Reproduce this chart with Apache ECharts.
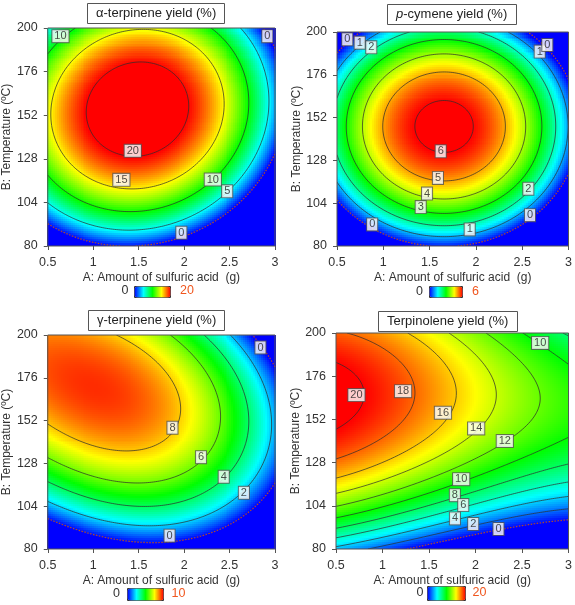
<!DOCTYPE html>
<html><head><meta charset="utf-8">
<script src="https://cdn.jsdelivr.net/npm/echarts@6/dist/echarts.min.js"></script>
<style>html,body{margin:0;padding:0;background:#fff}#c{width:575px;height:605px}</style>
</head><body><div id="c"></div>
<script>
// ---------- data ----------
const xTicks = [0.5, 1, 1.5, 2, 2.5, 3];
const yTicks = [80, 104, 128, 152, 176, 200];
const titles = ['α-terpinene yield (%)', '{i|p}-cymene yield (%)', 'γ-terpinene yield (%)', 'Terpinolene yield (%)'];
const xName = 'A: Amount of sulfuric acid  (g)';
const yName = 'B: Temperature (ºC)';
const colorMax = [20, 6, 10, 20];
const fitDegree = [2, 2, 3, 3];

const alphaLevels = [0, 5, 10, 15, 20];
const cymeneLevels = [0, 1, 2, 3, 4, 5, 6];
const gammaLevels = [0, 2, 4, 6, 8];
const terpLevels = [0, 2, 4, 6, 8, 10, 12, 14, 16, 18, 20];

// [A (g), B (°C), yield] points
const alphaPts = [
  [1.54,155.5,23],
  [0.969,155.5,20],[2.114,155.5,20],[1.54,182.1,20],[1.54,128.8,20],
  [0.61,155.5,15],[2.405,155.5,15],[1.52,199.5,15],[1.52,111.5,15],[1.31,113.5,15],
  [2.73,155.5,10],[1.54,99.6,10],[0.5,183.6,10],[0.5,111.5,10],[0.64,195.5,10],[2.316,116.6,10],
  [2.93,155.5,5],[1.54,89.9,5],[2.474,110.1,5],[0.5,102,5],
  [1.54,81.3,0],[1.97,83,0],[3.0,131.5,0],[2.916,195.5,0],[0.5,95.5,0]
];
const cymenePts = [
  [1.66,145.5,6.35],
  [1.313,145.5,6],[2.009,145.5,6],[1.66,161,6],[1.66,130,6],
  [0.983,145.6,5],[2.333,145.6,5],[1.66,176.4,5],[1.66,114.9,5],
  [0.763,145,4],[2.555,145,4],[1.66,184.7,4],[1.66,104.8,4],
  [0.594,145.3,3],[2.728,145.3,3],[1.66,193.3,3],[1.66,97.2,3],
  [0.51,145.4,2],[2.873,145.4,2],[1.66,199.3,2],[1.66,90.3,2],[2.566,112.1,2],[0.87,191.4,2],
  [2.95,145.4,1],[1.66,84.6,1],[2.689,189,1],[0.745,194,1],[1.933,86.5,1],
  [1.66,79.5,0],[0.88,92.1,0],[2.584,97.3,0],[2.771,192.7,0],[0.611,195.9,0]
];
const gammaPts = [
  [0.935,168.6,9.4],[0.5,175,9.1],[0.5,200,8.7],
  [0.5,147.6,8],[1.293,134.9,8],[1.872,148,8],[1.943,161.1,8],[1.65,188.3,8],[1.3,200,8],
  [0.5,130.2,6],[1.65,116.7,6],[2.186,131.5,6],[2.329,154.6,6],[2.15,186.4,6],[1.83,200,6],
  [0.5,117.5,4],[1.83,104,4],[2.436,120.5,4],[2.704,154.6,4],[2.561,182.7,4],[2.2,200,4],
  [0.5,106.8,2],[1.972,93.1,2],[2.658,111.5,2],[2.955,150.8,2],[2.83,180.8,2],[2.55,200,2],
  [0.5,98.7,0],[1.9,85.5,0],[3.0,117,0],[2.73,200,0],[2.84,193,0],
  [3,150,1.8],[3,200,-2.5],[3,80,-6],[0.5,80,-4]
];
const terpPts = [
  [0.5,162,20.9],[0.5,200,18.3],
  [0.5,177.9,20],[0.72,162.1,20],[0.5,143.1,20],
  [0.56,199,18],[1.221,162.1,18],[1.046,146.5,18],[0.5,128.9,18],
  [1.31,200,16],[1.722,162,16],[0.5,118.8,16],
  [1.85,200,14],[1.94,194.5,14],[2.221,162,14],[2.007,147,14],[0.5,109.5,14],
  [2.15,200,12],[2.708,162.1,12],[2.315,140,12],[0.5,101.6,12],
  [2.44,200,10],[2.695,194.5,10],[3.0,184.3,10],[3.0,128.9,10],[1.846,118.8,10],[0.5,95.7,10],
  [2.9,200,8],[3.0,195,8],[3.0,122.5,8],[1.778,109.9,8],[0.5,91.1,8],
  [3.0,116.6,6],[1.868,104.4,6],[0.5,86.5,6],
  [3.0,111.4,4],[1.779,97,4],[0.5,82.2,4],
  [3.0,105.9,2],[1.975,93.9,2],[0.5,79.5,2],
  [3.0,98.5,0],[2.247,91.1,0],[1.67,80,0],
  [3,162,11],[3,200,7.6],[3,80,-6]
];

// contour label boxes [A, B, text]
const alphaLabels = [[0.64,195.5,'10'],[2.916,195.5,'0'],[1.435,132.4,'20'],[1.31,116.4,'15'],[2.316,116.6,'10'],[2.474,110.1,'5'],[1.97,87.3,'0']];
const cymeneLabels = [[0.611,195.9,'0'],[0.745,194,'1'],[0.87,191.4,'2'],[2.689,189,'1'],[2.771,192.7,'0'],[1.62,133.1,'6'],[1.59,118.2,'5'],[1.472,109.4,'4'],[1.404,101.8,'3'],[2.566,112.1,'2'],[2.584,97.3,'0'],[0.88,92.1,'0'],[1.933,89.3,'1']];
const gammaLabels = [[1.872,148,'8'],[2.186,131.5,'6'],[2.436,120.5,'4'],[2.658,111.5,'2'],[1.84,87.5,'0'],[2.84,193,'0']];
const terpLabels = [[0.72,165.5,'20'],[1.221,167.7,'18'],[1.65,155.7,'16'],[2.007,147,'14'],[2.315,140,'12'],[2.695,194.5,'10'],[1.846,118.8,'10'],[1.778,109.9,'8'],[1.868,104.4,'6'],[1.779,97,'4'],[1.975,93.9,'2'],[2.247,91.1,'0']];

const panelPts = [alphaPts, cymenePts, gammaPts, terpPts];
const panelLevels = [alphaLevels, cymeneLevels, gammaLevels, terpLevels];
const panelLabels = [alphaLabels, cymeneLabels, gammaLabels, terpLabels];

// ---------- layout / style ----------
const palette = ['#0000ff', '#00ffff', '#00ff00', '#ffff00', '#ff0000'];
const FONT = '"Liberation Sans", Arial, sans-serif';
const layout = [
  {left:43, top:28, w:232, h:218, nx:116, ny:109, title:[87,3], yGap:31, bar:[134,286,36,11], lab0:[125,291], labMax:[187,291]},
  {left:337, top:32, w:232, h:214, nx:116, ny:107, title:[387,4], yGap:28, bar:[429,286,33,11], lab0:[419.5,292], labMax:[475.5,292]},
  {left:42, top:335, w:233, h:214, nx:116, ny:107, title:[88,310], yGap:30, bar:[127,588,36,12], lab0:[116.5,594], labMax:[178.5,594]},
  {left:336, top:333, w:233, h:216, nx:116, ny:108, title:[378,311], yGap:32, bar:[427,586,38,14], lab0:[420,593], labMax:[479.5,593]}
];

// ---------- response-surface fit of the read points ----------
const X0 = xTicks[0], X1 = xTicks[xTicks.length-1];
const Y0 = yTicks[0], Y1 = yTicks[yTicks.length-1];
function nu(a){ return (a - (X0+X1)/2) / ((X1-X0)/2); }
function nv(b){ return (b - (Y0+Y1)/2) / ((Y1-Y0)/2); }
function basis(u, v, deg){
  const b = [1, u, v, u*v, u*u, v*v];
  if (deg >= 3) b.push(u*u*u, u*u*v, u*v*v, v*v*v);
  return b;
}
function fit(pts, deg){
  const rows = pts.map(p => basis(nu(p[0]), nv(p[1]), deg));
  const n = rows[0].length;
  const M = Array.from({length:n}, () => new Array(n).fill(0));
  const r = new Array(n).fill(0);
  rows.forEach((b, k) => {
    for (let i = 0; i < n; i++) {
      r[i] += b[i] * pts[k][2];
      for (let j = 0; j < n; j++) M[i][j] += b[i] * b[j];
    }
  });
  for (let i = 0; i < n; i++) M[i][i] += 1e-4;
  for (let c = 0; c < n; c++) {
    let piv = c;
    for (let i = c+1; i < n; i++) if (Math.abs(M[i][c]) > Math.abs(M[piv][c])) piv = i;
    [M[c], M[piv]] = [M[piv], M[c]]; [r[c], r[piv]] = [r[piv], r[c]];
    for (let i = c+1; i < n; i++) {
      const f = M[i][c] / M[c][c];
      for (let j = c; j < n; j++) M[i][j] -= f * M[c][j];
      r[i] -= f * r[c];
    }
  }
  const x = new Array(n).fill(0);
  for (let i = n-1; i >= 0; i--) {
    let s = r[i];
    for (let j = i+1; j < n; j++) s -= M[i][j] * x[j];
    x[i] = s / M[i][i];
  }
  return (a, b) => { const bb = basis(nu(a), nv(b), deg); let s = 0; for (let i = 0; i < n; i++) s += bb[i]*x[i]; return s; };
}

// ---------- marching squares ----------
function contourChains(F, nx, ny, level){
  const P = {}, adj = {};
  const link = (a, b) => { (adj[a] = adj[a] || []).push(b); (adj[b] = adj[b] || []).push(a); };
  const nodeA = i => X0 + i*(X1-X0)/nx, nodeB = j => Y0 + j*(Y1-Y0)/ny;
  function edge(key, i1, j1, i2, j2){
    const va = F[j1][i1], vb = F[j2][i2];
    if ((va >= level) === (vb >= level)) return null;
    if (!P[key]) {
      const t = (level - va) / (vb - va);
      P[key] = [nodeA(i1) + t*(nodeA(i2)-nodeA(i1)), nodeB(j1) + t*(nodeB(j2)-nodeB(j1))];
    }
    return key;
  }
  for (let j = 0; j < ny; j++) for (let i = 0; i < nx; i++) {
    const eb = edge('h'+i+'_'+j, i, j, i+1, j);
    const er = edge('v'+(i+1)+'_'+j, i+1, j, i+1, j+1);
    const et = edge('h'+i+'_'+(j+1), i, j+1, i+1, j+1);
    const el = edge('v'+i+'_'+j, i, j, i, j+1);
    const list = [eb, er, et, el].filter(e => e);
    if (list.length === 2) link(list[0], list[1]);
    else if (list.length === 4) {
      const c = (F[j][i]+F[j][i+1]+F[j+1][i]+F[j+1][i+1])/4;
      if ((c >= level) === (F[j][i] >= level)) { link(eb, er); link(et, el); }
      else { link(eb, el); link(er, et); }
    }
  }
  const used = {}, chains = [];
  const walk = start => {
    const chain = [P[start]]; used[start] = true;
    let cur = start;
    while (true) {
      const nxt = (adj[cur] || []).find(k => !used[k]);
      if (!nxt) break;
      used[nxt] = true; chain.push(P[nxt]); cur = nxt;
    }
    if ((adj[cur] || []).includes(start) && chain.length > 2) chain.push(P[start]);
    return chain;
  };
  Object.keys(adj).forEach(k => { if (!used[k] && adj[k].length === 1) chains.push(walk(k)); });
  Object.keys(adj).forEach(k => { if (!used[k]) chains.push(walk(k)); });
  return chains;
}

// ---------- build option ----------
const grids = [], xAxes = [], yAxes = [], series = [], visualMaps = [], titleOpts = [], graphics = [];
layout.forEach((L, p) => {
  const f = fit(panelPts[p], fitDegree[p]);
  grids.push({left:L.left, top:L.top, width:L.w, height:L.h, show:true, borderColor:'#555', borderWidth:1, backgroundColor:'transparent', z:10});
  xAxes.push({gridIndex:p, type:'value', position:'bottom', min:X0, max:X1, interval:xTicks[1]-xTicks[0],
    axisLine:{show:false}, splitLine:{show:false},
    axisTick:{show:true, inside:false, length:4, lineStyle:{color:'#555'}},
    axisLabel:{fontSize:12.5, color:'#333', fontFamily:FONT, margin:10},
    name:xName, nameLocation:'middle', nameGap:26, nameTextStyle:{fontSize:12, color:'#333', fontFamily:FONT}});
  yAxes.push({gridIndex:p, type:'value', position:'left', min:0, max:Y1-Y0, interval:yTicks[1]-yTicks[0],
    axisLine:{show:false}, splitLine:{show:false},
    axisTick:{show:true, inside:false, length:4, lineStyle:{color:'#555'}},
    axisLabel:{fontSize:12.5, color:'#333', fontFamily:FONT, margin:10, formatter: v => String(v + Y0)},
    name:yName, nameLocation:'middle', nameGap:L.yGap, nameTextStyle:{fontSize:12, color:'#333', fontFamily:FONT}});

  // surface cells [A, B-80, value], coloured by the visualMap, drawn through the axes
  const dA = (X1-X0)/L.nx, dB = (Y1-Y0)/L.ny;
  const cells = [];
  for (let j = 0; j < L.ny; j++) for (let i = 0; i < L.nx; i++) {
    const a = X0 + (i+0.5)*dA, b = Y0 + (j+0.5)*dB;
    cells.push([a, b - Y0, Math.max(0, Math.min(colorMax[p], f(a, b)))]);
  }
  const sIdx = series.length;
  series.push({type:'custom', xAxisIndex:p, yAxisIndex:p, data:cells, progressive:0, silent:true, z:2,
    encode:{x:0, y:1},
    renderItem: (params, api) => {
      const a = api.value(0), b = api.value(1);
      const p0 = api.coord([a - dA/2, b - dB/2]), p1 = api.coord([a + dA/2, b + dB/2]);
      const x = Math.floor(Math.min(p0[0], p1[0])), y = Math.floor(Math.min(p0[1], p1[1]));
      const w = Math.ceil(Math.max(p0[0], p1[0])) - x + 1, h = Math.ceil(Math.max(p0[1], p1[1])) - y + 1;
      return {type:'rect', shape:{x, y, width:w, height:h}, style:{fill: api.visual('color')}};
    }, clip:true});

  // contour lines
  const F = [];
  for (let j = 0; j <= L.ny; j++) { const row = []; for (let i = 0; i <= L.nx; i++) row.push(f(X0 + i*dA, Y0 + j*dB)); F.push(row); }
  const items = [];
  panelLevels[p].forEach(lv => contourChains(F, L.nx, L.ny, lv).forEach(ch => { if (ch.length > 1) items.push({lv, pts:ch}); }));
  series.push({type:'custom', xAxisIndex:p, yAxisIndex:p, silent:true, z:3, clip:true, progressive:0,
    data: items.map((it, k) => [it.pts[0][0], it.pts[0][1]-Y0, k]),
    renderItem: (params, api) => {
      const it = items[params.dataIndex];
      const pts = it.pts.map(q => api.coord([q[0], q[1]-Y0]));
      return {type:'polyline', shape:{points:pts}, style: it.lv === 0 ?
        {stroke:'#b04a2a', lineWidth:1.2, fill:'none', lineDash:[1.5,1.5]} :
        {stroke:'rgba(45,45,45,0.8)', lineWidth:0.9, fill:'none'}};
    }});

  // contour labels
  series.push({type:'scatter', xAxisIndex:p, yAxisIndex:p, silent:true, z:4,
    symbol:'rect', symbolSize:1, itemStyle:{color:'#fff'},
    data: panelLabels[p].map(d => [d[0], d[1]-Y0, d[2]]),
    label:{show:true, position:'inside', formatter: q => q.value[2], fontSize:11, fontFamily:FONT, color:'#222',
      backgroundColor:'#fff', borderColor:'#555', borderWidth:1, padding:[1,2,0,2]}});

  visualMaps.push({type:'continuous', min:0, max:colorMax[p], dimension:2, seriesIndex:sIdx, calculable:false, orient:'horizontal',
    left:L.bar[0], top:L.bar[1], itemHeight:L.bar[2], itemWidth:L.bar[3], padding:0, borderWidth:1, borderColor:'#333',
    inRange:{color:palette}, hoverLink:false});

  titleOpts.push({text:titles[p], left:L.title[0], top:L.title[1], padding:[4,9], borderWidth:1, borderColor:'#555', backgroundColor:'#fff',
    textStyle:{fontSize:13, fontWeight:'normal', color:'#222', fontFamily:FONT,
      rich:{i:{fontStyle:'italic', fontSize:13, color:'#222', fontFamily:FONT}}}});

  graphics.push({type:'text', left:L.lab0[0]-3.5, top:L.lab0[1]-7, style:{text:'0', fontSize:12.5, fill:'#333', fontFamily:FONT}});
  graphics.push({type:'text', left:L.labMax[0] - (String(colorMax[p]).length*3.5), top:L.labMax[1]-7, style:{text:String(colorMax[p]), fontSize:12.5, fill:'#f0561e', fontFamily:FONT}});
});

const chart = echarts.init(document.getElementById('c'), null, {renderer:'canvas'});
chart.setOption({animation:false, backgroundColor:'#fff', title:titleOpts, grid:grids, xAxis:xAxes, yAxis:yAxes,
  visualMap:visualMaps, series, graphic:graphics});
</script></body></html>
